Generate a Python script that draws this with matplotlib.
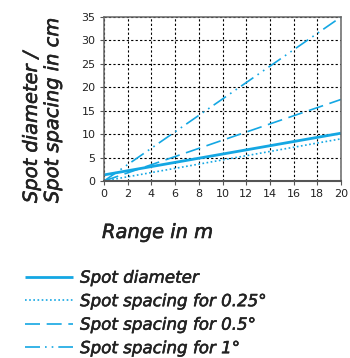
import matplotlib.pyplot as plt
import matplotlib.patheffects as pe
import numpy as np

# range in m and values in cm
rng = [0, 20]
spot_diameter = [1.3, 10.2]
spacing_025 = [0.0, 9.0]
spacing_05 = [0.0, 17.4]
spacing_1 = [0.0, 35.0]

labels = ["Spot diameter", "Spot spacing for 0.25°",
          "Spot spacing for 0.5°", "Spot spacing for 1°"]
xticks = np.arange(0, 21, 2)
yticks = np.arange(0, 36, 5)

col = "#14a7e3"
txt = "#222222"
bold = [pe.withStroke(linewidth=0.45, foreground=txt)]

fig = plt.figure(figsize=(3.5, 3.58), dpi=100)
ax = fig.add_axes([104/350, 1 - 181/358, 237/350, 164/358])

l1, = ax.plot(rng, spot_diameter, color=col, lw=2.0, solid_capstyle="butt")
l2, = ax.plot(rng, spacing_025, color=col, lw=1.2, ls=(0, (1, 1.5)))
l3, = ax.plot(rng, spacing_05, color=col, lw=1.2, ls=(0, (9, 4)))
l4, = ax.plot(rng, spacing_1, color=col, lw=1.2, ls=(0, (9, 3, 1, 3, 1, 3)))

ax.set_xlim(0, 20)
ax.set_ylim(0, 35)
ax.set_xticks(xticks)
ax.set_yticks(yticks)
ax.grid(True, color="black", ls=(0, (2, 2)), lw=0.8)
ax.set_axisbelow(True)
for s in ["top", "right", "left"]:
    ax.spines[s].set_color("#666666")
    ax.spines[s].set_linewidth(1.1)
ax.spines["bottom"].set_color("#555555")
ax.spines["bottom"].set_linewidth(1.5)
ax.tick_params(length=3, width=0.8, pad=3, labelsize=8, labelcolor=txt,
               color="#555555")

fig.text(102/350, 1 - 238/358, "Range in m", fontsize=14, style="italic",
         color=txt, ha="left", va="baseline", path_effects=bold)
fig.text(42/350, 1 - 203/358, "Spot diameter /\nSpot spacing in cm", fontsize=14,
         style="italic", color=txt, rotation=90, ha="center", va="bottom",
         multialignment="left", linespacing=1.15, path_effects=bold)

leg = fig.legend([l1, l2, l3, l4], labels, loc="upper left",
                 bbox_to_anchor=(18/350, 1 - 262/358), borderaxespad=0,
                 frameon=False, prop={"size": 12, "style": "italic"},
                 labelcolor=txt, handlelength=2.9, handletextpad=0.42,
                 labelspacing=0.33)
for t in leg.get_texts():
    t.set_path_effects([pe.withStroke(linewidth=0.4, foreground=txt)])

fig.savefig("out.png", dpi=100)
